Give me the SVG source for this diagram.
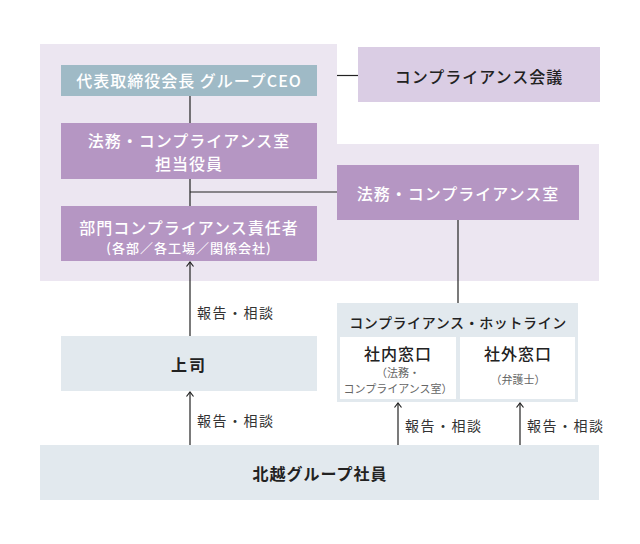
<svg xmlns="http://www.w3.org/2000/svg" width="640" height="544" viewBox="0 0 640 544">
<defs>
<marker id="arr" markerWidth="10" markerHeight="10" refX="9" refY="5" orient="auto" markerUnits="userSpaceOnUse" viewBox="0 0 10 10">
<path d="M4.5,1.5 L9,5 L4.5,8.5" fill="none" stroke="#222" stroke-width="1.2"/>
</marker>
</defs>
<style>
text{font-family:"Noto Sans CJK JP","Noto Sans",sans-serif;dominant-baseline:central;text-anchor:middle}
.w{fill:#fff;font-size:16px;font-weight:500;letter-spacing:1px}
.d{fill:#222;font-size:16px;font-weight:700;letter-spacing:1px}
.lb{fill:#333;font-size:14px;font-weight:400;letter-spacing:1.5px;text-anchor:start}
.sm{fill:#666;font-size:11px;font-weight:400}
.purple{fill:#b596c3}
.grey{fill:#e2e9ee}
.ln{stroke:#222;stroke-width:1.2;fill:none}
</style>
<rect width="640" height="544" fill="#fff"/>
<path d="M40,44 H337 V144 H599 V281 H40 Z" fill="#ece6f1"/>

<g id="ceo">
<rect x="61" y="65" width="256" height="31" fill="#9fbac6"/>
<text class="w" x="189" y="80">代表取締役会長 グループCEO</text>
</g>
<g id="legal-officer">
<rect class="purple" x="61" y="123" width="256" height="56"/>
<text class="w" x="189" y="140">法務・コンプライアンス室</text>
<text class="w" x="189" y="163">担当役員</text>
</g>
<g id="dept-officer">
<rect class="purple" x="61" y="206" width="256" height="55"/>
<text class="w" x="189" y="227">部門コンプライアンス責任者</text>
<text class="w" x="189" y="247" style="font-size:13px;font-weight:500;letter-spacing:1px">(各部／各工場／関係会社)</text>
</g>
<g id="council">
<rect x="358" y="47" width="242" height="55" fill="#dacde4"/>
<text class="d" x="479" y="76" style="font-weight:500">コンプライアンス会議</text>
</g>
<g id="legal-office">
<rect class="purple" x="337" y="165" width="242" height="55"/>
<text class="w" x="458" y="193">法務・コンプライアンス室</text>
</g>
<g id="boss">
<rect class="grey" x="61" y="336" width="256" height="55"/>
<text class="d" x="189" y="364" style="letter-spacing:2px">上司</text>
</g>
<g id="hotline">
<rect class="grey" x="337" y="303" width="241" height="99"/>
<text x="458" y="322" style="fill:#222;font-size:14px;font-weight:500;letter-spacing:0.6px">コンプライアンス・ホットライン</text>
<rect x="340" y="337" width="116" height="62" fill="#fff"/>
<rect x="460" y="337" width="115" height="62" fill="#fff"/>
<text x="398" y="353" style="fill:#222;font-size:16px;font-weight:500;letter-spacing:1px">社内窓口</text>
<text class="sm" x="398" y="371.5">（法務・</text>
<text class="sm" x="398" y="388">コンプライアンス室）</text>
<text x="518" y="353" style="fill:#222;font-size:16px;font-weight:500;letter-spacing:1px">社外窓口</text>
<text class="sm" x="518" y="379">（弁護士）</text>
</g>
<g id="employees">
<rect class="grey" x="40" y="445" width="559" height="55"/>
<text class="d" x="320" y="473">北越グループ社員</text>
</g>

<g id="connectors">
<line class="ln" x1="190" y1="96" x2="190" y2="123"/>
<line class="ln" x1="190" y1="179" x2="190" y2="206"/>
<line class="ln" x1="190" y1="192" x2="337" y2="192"/>
<line class="ln" x1="337" y1="75.5" x2="358" y2="75.5"/>
<line class="ln" x1="458" y1="220" x2="458" y2="303"/>
<line class="ln" x1="190" y1="336" x2="190" y2="262" marker-end="url(#arr)"/>
<line class="ln" x1="190" y1="445" x2="190" y2="392" marker-end="url(#arr)"/>
<line class="ln" x1="398" y1="445" x2="398" y2="403" marker-end="url(#arr)"/>
<line class="ln" x1="520" y1="445" x2="520" y2="403" marker-end="url(#arr)"/>
<text class="lb" x="197" y="312">報告・相談</text>
<text class="lb" x="197" y="420">報告・相談</text>
<text class="lb" x="405" y="425">報告・相談</text>
<text class="lb" x="527" y="425">報告・相談</text>
</g>
</svg>
